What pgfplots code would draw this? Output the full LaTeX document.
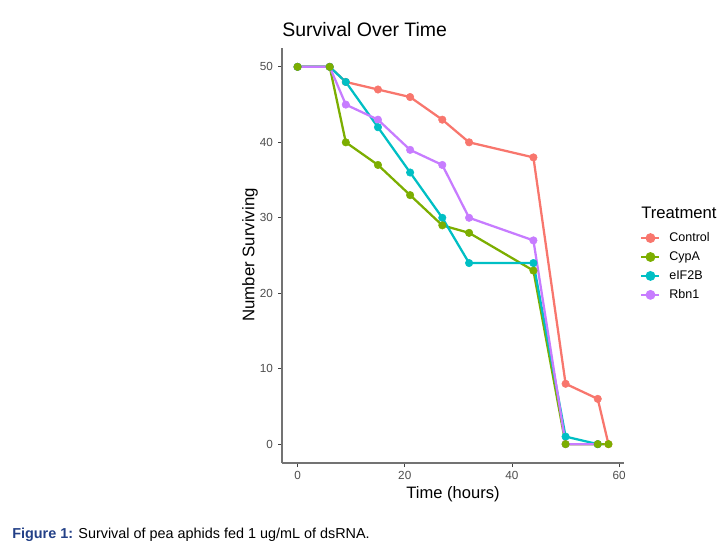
\documentclass[border=0pt]{standalone}
\usepackage{pgfplots}
\pgfplotsset{compat=1.18}
\usepackage{fontspec}
\setmainfont{Liberation Sans}

\definecolor{cControl}{HTML}{F8766D}
\definecolor{cCypA}{HTML}{7CAE00}
\definecolor{ceIF}{HTML}{00BFC4}
\definecolor{cRbn}{HTML}{C77CFF}
\definecolor{grey30}{HTML}{4D4D4D}
\definecolor{figblue}{RGB}{35,64,135}

\begin{document}
\begin{tikzpicture}
\useasboundingbox (0,0) rectangle (540pt,410.25pt);
\begin{axis}[
  at={(211.5pt,63pt)}, anchor=south west,
  scale only axis, width=256.5pt, height=311.25pt,
  xmin=-2.9, xmax=60.9, ymin=-2.5, ymax=52.5,
  axis x line*=bottom, axis y line*=left,
  axis line style={-, line width=0.9pt, black!55},
  xtick={0,20,40,60}, ytick={0,10,20,30,40,50},
  tick align=outside, major tick length=3pt,
  tick style={line width=0.7pt, black!75},
  ticklabel style={font=\fontsize{8.8}{10}\selectfont, text=grey30},
  yticklabel style={xshift=-0.3pt},
  /pgf/number format/assume math mode=true,
  legend style={at={(1.047,0.5555)}, anchor=north west, draw=none, fill=none,
    inner sep=0pt, row sep=6.2pt,
    font=\fontsize{9.4}{11}\selectfont,
    nodes={inner sep=0pt, text height=6.6pt, text depth=1.4pt},
    /tikz/every odd column/.append style={column sep=6.5pt}},
  legend cell align=left,
  legend image code/.code={\draw[mark repeat=2,mark phase=2] plot coordinates {(0pt,0pt)(6.75pt,0pt)(13.5pt,0pt)};},
]
% lines
\addplot[cControl, line width=1.7pt, forget plot] coordinates {(0,50)(6,50)(9,48)(15,47)(21,46)(27,43)(32,40)(44,38)(50,8)(56,6)(58,0)};
\addplot[cCypA, line width=1.7pt, forget plot] coordinates {(0,50)(6,50)(9,40)(15,37)(21,33)(27,29)(32,28)(44,23)(50,0)(56,0)(58,0)};
\addplot[ceIF, line width=1.7pt, forget plot] coordinates {(0,50)(6,50)(9,48)(15,42)(21,36)(27,30)(32,24)(44,24)(50,1)(56,0)};
\addplot[cRbn, line width=1.7pt, forget plot] coordinates {(0,50)(6,50)(9,45)(15,43)(21,39)(27,37)(32,30)(44,27)(50,0)(56,0)};
% points
\addplot[only marks, mark=*, mark size=2.8pt, cControl, forget plot] coordinates {(0,50)(6,50)(9,48)(15,47)(21,46)(27,43)(32,40)(44,38)(50,8)(56,6)(58,0)};
\addplot[only marks, mark=*, mark size=2.8pt, cRbn, forget plot] coordinates {(0,50)(6,50)(9,45)(15,43)(21,39)(27,37)(32,30)(44,27)(50,0)(56,0)};
\addplot[only marks, mark=*, mark size=2.8pt, ceIF, forget plot] coordinates {(0,50)(6,50)(9,48)(15,42)(21,36)(27,30)(32,24)(44,24)(50,1)(56,0)};
\addplot[only marks, mark=*, mark size=2.8pt, cCypA, forget plot] coordinates {(0,50)(6,50)(9,40)(15,37)(21,33)(27,29)(32,28)(44,23)(50,0)(56,0)(58,0)};
% legend
\addlegendimage{cControl, line width=1.7pt, mark=*, mark size=2.8pt}
\addlegendentry{Control}
\addlegendimage{cCypA, line width=1.7pt, mark=*, mark size=2.8pt}
\addlegendentry{CypA}
\addlegendimage{ceIF, line width=1.7pt, mark=*, mark size=2.8pt}
\addlegendentry{eIF2B}
\addlegendimage{cRbn, line width=1.7pt, mark=*, mark size=2.8pt}
\addlegendentry{Rbn1}
\end{axis}
\node[anchor=west, inner sep=0pt, font=\fontsize{14.6}{17}\selectfont] at (211.5pt,387.75pt) {Survival Over Time};
\node[rotate=90, inner sep=0pt, font=\fontsize{12.6}{14}\selectfont] at (187.5pt,219pt) {Number Surviving};
\node[inner sep=0pt, font=\fontsize{12.4}{14}\selectfont] at (339.75pt,39.75pt) {Time (hours)};
\node[anchor=west, inner sep=0pt, font=\fontsize{12.5}{14}\selectfont] at (480.75pt,250.5pt) {Treatment};
\node[anchor=west, inner sep=0pt, font=\fontsize{10.8}{13}\selectfont] at (9pt,9pt) {\textcolor{figblue}{\textbf{Figure 1:}} Survival of pea aphids fed 1 ug/mL of dsRNA.};
\end{tikzpicture}
\end{document}
